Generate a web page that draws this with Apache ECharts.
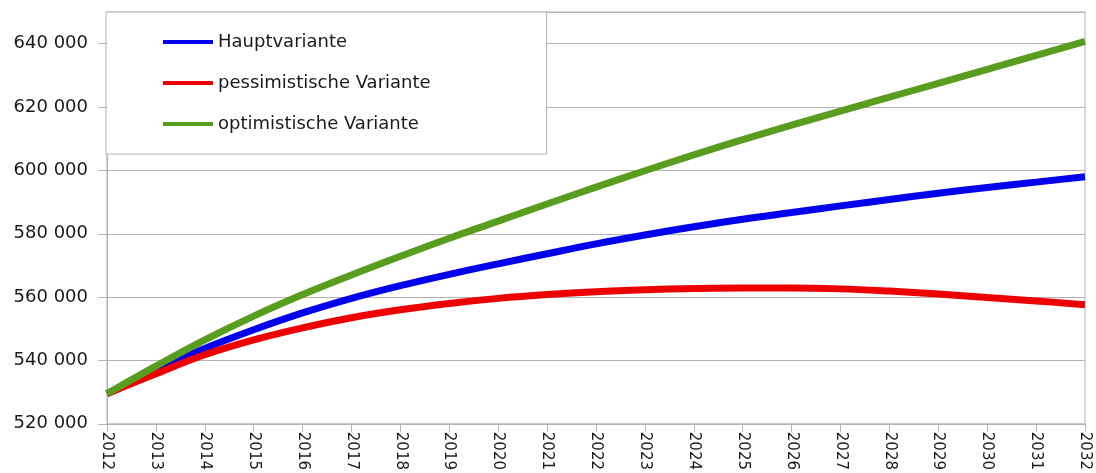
<!DOCTYPE html>
<html lang="de">
<head>
    <meta charset="UTF-8">
    <script src="https://cdn.jsdelivr.net/npm/echarts@6/dist/echarts.min.js"></script>
    <title>Bevölkerungsvorausberechnung</title>
    <style>
        html, body { margin: 0; padding: 0; background: #fff; }
    </style>
</head>
<body>
    <div id="chart" style="width: 1096px;height:473px;"></div>
</body>
<script type="text/javascript">
    // Jahre
    var years = ['2012', '2013', '2014', '2015', '2016', '2017', '2018', '2019', '2020', '2021', '2022',
                 '2023', '2024', '2025', '2026', '2027', '2028', '2029', '2030', '2031', '2032'];

    // Hauptvariante
    var hauptData = [529500, 537000, 543800, 549700, 555000, 559600, 563600, 567200, 570500, 573700, 576800,
                     579600, 582200, 584600, 586700, 588800, 590800, 592800, 594600, 596300, 598000];
    // pessimistische Variante
    var pessData = [529500, 535800, 541800, 546500, 550300, 553500, 556000, 558000, 559600, 560800, 561700,
                    562300, 562700, 562900, 562900, 562600, 561900, 561000, 559900, 558800, 557600];
    // optimistische Variante
    var optData = [529500, 538200, 546500, 554000, 560800, 567000, 572900, 578600, 584000, 589400, 594700,
                   599900, 604900, 609700, 614300, 618700, 623100, 627500, 631900, 636300, 640700];

    var seriesNames = ['Hauptvariante', 'pessimistische Variante', 'optimistische Variante'];

    var gridGray = '#b3b3b3';
    var font = 'DejaVu Sans';

    var chart = echarts.init(document.getElementById('chart'));

    function mkLine(name, data, color) {
        return {
            name: name,
            type: 'line',
            data: data,
            smooth: 0.4,
            showSymbol: false,
            lineStyle: {width: 7, color: color},
            itemStyle: {color: color}
        };
    }

    chart.setOption({
        animation: false,
        backgroundColor: '#fff',
        grid: {
            left: 107,
            right: 11,
            top: 12,
            bottom: 49,
            show: true,
            borderColor: gridGray,
            borderWidth: 1
        },
        legend: {
            orient: 'vertical',
            left: 106,
            top: 12,
            padding: [21, 116, 21, 57],
            itemGap: 23,
            itemWidth: 50,
            itemHeight: 4,
            icon: 'rect',
            backgroundColor: '#fff',
            borderColor: gridGray,
            borderWidth: 1,
            borderRadius: 0,
            data: seriesNames,
            textStyle: {
                fontFamily: font,
                fontSize: 18,
                color: '#1a1a1a'
            }
        },
        xAxis: {
            type: 'category',
            data: years,
            boundaryGap: false,
            axisLine: {lineStyle: {color: gridGray}},
            axisTick: {show: true, length: 8, lineStyle: {color: gridGray}},
            splitLine: {show: false},
            axisLabel: {
                rotate: -90,
                interval: 0,
                margin: 8,
                fontFamily: font,
                fontSize: 15,
                color: '#1a1a1a'
            }
        },
        yAxis: {
            type: 'value',
            min: 520000,
            max: 650000,
            interval: 20000,
            axisLine: {show: true, lineStyle: {color: gridGray}},
            axisTick: {show: true, length: 9, lineStyle: {color: gridGray}},
            splitLine: {show: true, lineStyle: {color: gridGray, width: 1}},
            axisLabel: {
                showMaxLabel: false,
                margin: 19,
                fontFamily: font,
                fontSize: 18,
                color: '#1a1a1a',
                formatter: function (v) {
                    return String(v).replace(/\B(?=(\d{3})+(?!\d))/g, ' ');
                }
            }
        },
        series: [
            mkLine(seriesNames[0], hauptData, '#0000ee'),
            mkLine(seriesNames[1], pessData, '#ee0000'),
            mkLine(seriesNames[2], optData, '#589d1e')
        ]
    });
</script>
</html>
